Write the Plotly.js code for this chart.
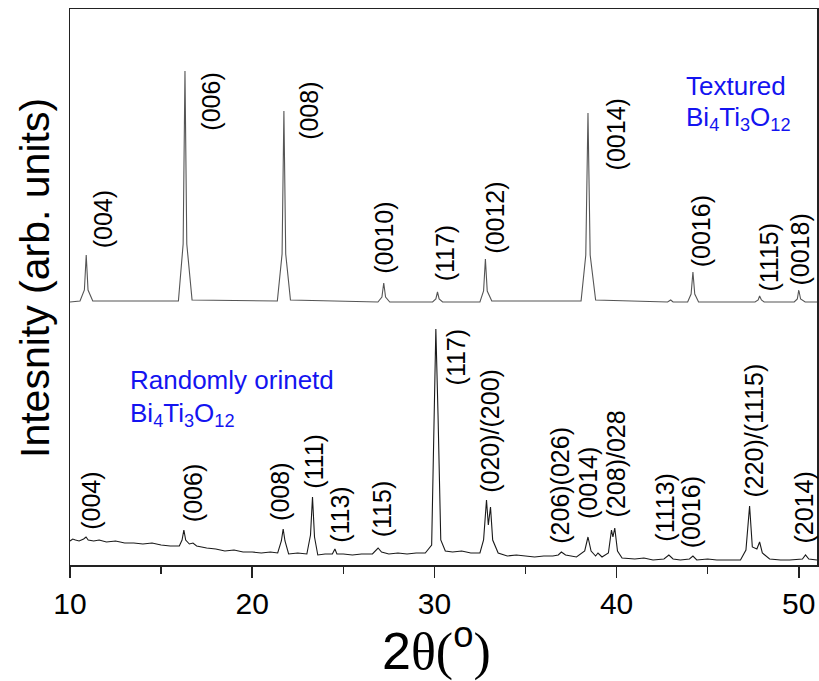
<!DOCTYPE html>
<html>
<head>
<meta charset="utf-8">
<script src="https://cdn.plot.ly/plotly-3.0.1.min.js"></script>
<style>html,body{margin:0;padding:0;background:#fff;}#chart{width:819px;height:681px;}</style>
</head>
<body>
<div id="chart"></div>
<script>
// ---- Data (2θ in degrees, intensity in arbitrary units; textured pattern offset upward) ----
var texturedTheta = [10, 10.55, 10.79, 10.89, 10.99, 11.25, 15.95, 16.21, 16.31, 16.41, 16.7, 21.38, 21.64, 21.74, 21.84, 22.1,
  26.9, 27.12, 27.22, 27.32, 27.55, 29.9, 30.08, 30.17, 30.26, 30.45, 32.5, 32.7, 32.8, 32.9, 33.15,
  38.05, 38.31, 38.43, 38.55, 38.85, 42.8, 42.97, 43.1, 43.9, 44.09, 44.19, 44.29, 44.5,
  47.6, 47.77, 47.85, 47.95, 48.1, 49.75, 49.92, 50.0, 50.1, 50.35, 51];
var texturedInt = [263, 264, 275, 310, 275, 264, 264, 321, 494, 321, 265, 264, 311, 454, 311, 265,
  263, 268, 282, 268, 263, 263, 266, 273, 266, 263, 263, 274, 306, 274, 264,
  264, 310, 452, 310, 265, 263, 265, 263, 263, 271, 293, 271, 263,
  263, 265, 269, 265, 263, 263, 266, 275, 266, 263, 263];

var randomTheta = [10.0, 10.15, 10.3, 10.5, 10.75, 10.88, 11.0, 11.3, 11.6, 12.0, 12.5, 13.0, 13.5, 14.0, 14.5, 15.0, 15.5, 16.0, 16.15, 16.25, 16.35,
  16.55, 16.75, 16.95, 17.5, 18.0, 18.5, 19.0, 19.5, 20.0, 20.5, 21.0, 21.4, 21.6, 21.7, 21.8, 22.0, 22.5, 23.0, 23.2, 23.31, 23.42,
  23.6, 24.0, 24.4, 24.54, 24.65, 25.0, 25.5, 26.0, 26.6, 26.8, 26.91, 27.1, 27.5, 28.0, 28.5, 29.0, 29.5, 29.85, 29.97, 30.08,
  30.2, 30.35, 30.6, 31.0, 31.5, 32.0, 32.5, 32.7, 32.86, 32.96, 33.08, 33.2, 33.5, 34.0, 34.5, 35.0, 35.5, 36.0, 36.5, 36.8,
  36.97, 37.2, 37.5, 37.8, 38.25, 38.43, 38.6, 38.85, 38.98, 39.2, 39.55, 39.72, 39.8, 39.9, 40.05, 40.3, 41.0, 41.5, 42.0, 42.6,
  42.87, 43.1, 43.5, 44.0, 44.19, 44.4, 45.0, 45.5, 46.2, 46.8, 47.1, 47.3, 47.45, 47.7, 47.85, 48.0, 48.4, 49.0, 49.5, 50.2,
  50.37, 50.55, 51.0];
var randomInt = [24, 26, 25, 24, 26, 28, 25, 24, 25, 23, 24, 22, 22, 21, 22, 20, 19, 19, 25, 35, 25,
  21, 22, 19, 17, 16, 14, 15, 13, 13, 12, 13, 12, 24, 36, 24, 11, 12, 11, 30, 68, 28,
  10, 11, 11, 16, 11, 11, 10, 11, 11, 15, 17, 13, 11, 12, 11, 12, 12, 20, 150, 236,
  150, 25, 14, 13, 14, 12, 12, 25, 65, 40, 58, 25, 12, 9, 10, 9, 8, 9, 9, 10,
  13, 10, 9, 8, 14, 28, 14, 9, 12, 8, 12, 35, 28, 37, 14, 7, 6, 7, 5, 6,
  10, 6, 5, 6, 9, 5, 6, 5, 5, 5, 15, 59, 18, 16, 23, 12, 6, 5, 5, 6,
  10, 6, 5];

var texturedLabels = ['(004)', '(006)', '(008)', '(0010)', '(117)', '(0012)', '(0014)', '(0016)', '(1115)', '(0018)'];
var texturedLabelTheta = [11.83, 17.72, 23.11, 27.22, 30.60, 33.31, 39.99, 44.65, 48.34, 50.04];
var texturedLabelInt = [346, 463, 454, 327, 312, 347, 431, 334, 308, 315];

var randomLabels = ['(004)', '(006)', '(008)', '(111)', '(113)', '(115)', '(117)', '(020)/(200)', '(206)(026)', '(0014)', '(208)/028', '(1113)', '(0016)', '(220)/(1115)', '(2014)'];
var randomLabelTheta = [11.14, 16.76, 21.52, 23.38, 24.81, 27.14, 31.21, 33.04, 36.88, 38.43, 39.99, 42.64, 44.10, 47.52, 50.26];
var randomLabelInt = [64, 72, 73, 104, 51, 56, 208, 134, 80, 82, 101, 58, 53, 134, 57];

var xTickVals = [10, 20, 30, 40, 50];
var xTickText = ['10', '20', '30', '40', '50'];

// ---- Chart ----
var FONT = 'Liberation Sans, Arial, sans-serif';
var SERIF = 'Liberation Serif, Times New Roman, serif';
var traces = [
  {x: texturedTheta, y: texturedInt, type: 'scatter', mode: 'lines', line: {color: '#555555', width: 1.1}, hoverinfo: 'skip'},
  {x: randomTheta, y: randomInt, type: 'scatter', mode: 'lines', line: {color: '#1a1a1a', width: 1.1}, hoverinfo: 'skip'}
];

var annotations = [];
function addLabels(texts, xs, ys) {
  for (var i = 0; i < texts.length; i++) {
    annotations.push({x: xs[i], y: ys[i], xref: 'x', yref: 'y', text: texts[i], textangle: -90,
      showarrow: false, xanchor: 'center', yanchor: 'middle', font: {family: FONT, size: 25, color: '#000'}});
  }
}
addLabels(texturedLabels, texturedLabelTheta, texturedLabelInt);
addLabels(randomLabels, randomLabelTheta, randomLabelInt);

var BLUE = '#1414f0';
annotations.push({xref: 'paper', yref: 'paper', x: (684 - 70) / 747, y: (565 - 86) / 556, xanchor: 'left', yanchor: 'middle',
  text: 'Textured', showarrow: false, font: {family: FONT, size: 26, color: BLUE}});
annotations.push({xref: 'paper', yref: 'paper', x: (684 - 70) / 747, y: (565 - 118) / 556, xanchor: 'left', yanchor: 'middle',
  text: 'Bi<sub>4</sub>Ti<sub>3</sub>O<sub>12</sub>', showarrow: false, font: {family: FONT, size: 26, color: BLUE}});
annotations.push({xref: 'paper', yref: 'paper', x: (128 - 70) / 747, y: (565 - 380) / 556, xanchor: 'left', yanchor: 'middle',
  text: 'Randomly orinetd', showarrow: false, font: {family: FONT, size: 26, color: BLUE}});
annotations.push({xref: 'paper', yref: 'paper', x: (128 - 70) / 747, y: (565 - 414) / 556, xanchor: 'left', yanchor: 'middle',
  text: 'Bi<sub>4</sub>Ti<sub>3</sub>O<sub>12</sub>', showarrow: false, font: {family: FONT, size: 26, color: BLUE}});

// axis titles
annotations.push({xref: 'paper', yref: 'paper', x: (35 - 70) / 747, y: (565 - 278) / 556, xanchor: 'center', yanchor: 'middle',
  text: 'Intesnity (arb. units)', textangle: -90, showarrow: false, font: {family: FONT, size: 41, color: '#000'}});
annotations.push({xref: 'paper', yref: 'paper', x: (436 - 70) / 747, y: (565 - 647) / 556, xanchor: 'center', yanchor: 'middle',
  text: '2<span style="font-family:' + SERIF + '">θ(</span><sup>o</sup><span style="font-family:' + SERIF + '">)</span>',
  showarrow: false, font: {family: FONT, size: 52, color: '#000'}});

var layout = {
  width: 819, height: 681,
  margin: {l: 70, r: 2, t: 9, b: 116, pad: 0},
  paper_bgcolor: '#fff', plot_bgcolor: '#fff',
  showlegend: false,
  xaxis: {
    range: [10, 51], showgrid: false, zeroline: false,
    showline: true, mirror: true, linecolor: '#222', linewidth: 1.5,
    ticks: 'outside', ticklen: 11, tickwidth: 1.5, tickcolor: '#222',
    tickvals: xTickVals, ticktext: xTickText,
    tickfont: {family: FONT, size: 30, color: '#000'},
    minor: {dtick: 5, tick0: 10, ticks: 'outside', ticklen: 7, tickwidth: 1.5, tickcolor: '#222', showgrid: false}
  },
  yaxis: {
    range: [0, 556], showgrid: false, zeroline: false,
    showline: true, mirror: true, linecolor: '#222', linewidth: 1.5,
    ticks: '', showticklabels: false
  },
  annotations: annotations
};

Plotly.newPlot('chart', traces, layout, {staticPlot: true, displayModeBar: false});
</script>
</body>
</html>
